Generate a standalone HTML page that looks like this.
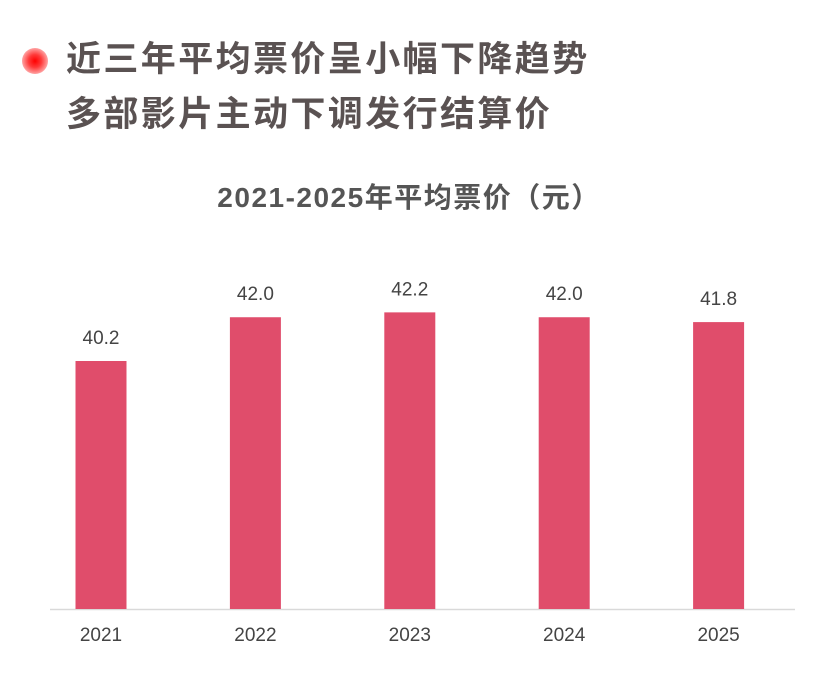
<!DOCTYPE html>
<html><head><meta charset="utf-8"><style>
body{margin:0;width:824px;height:675px;background:#fff;overflow:hidden;position:relative;font-family:"Liberation Sans","Noto Sans CJK SC",sans-serif}
.h{position:absolute;left:66px;font-size:35px;letter-spacing:2.4px;font-weight:bold;color:#5a5252;line-height:40px;white-space:nowrap}
.dot{position:absolute;left:22px;top:48px;width:26px;height:26px;border-radius:50%;background:radial-gradient(circle,#ff0000 0%,#ff3a3a 35%,#ffb0b0 75%,rgba(255,255,255,0) 100%)}
</style></head><body>
<div class="dot"></div>
<div class="h" style="top:40px">近三年平均票价呈小幅下降趋势</div>
<div class="h" style="top:95px">多部影片主动下调发行结算价</div>
<svg id="chart" width="824" height="675" style="position:absolute;left:0;top:0">
<text x="409" y="207" text-anchor="middle" font-size="28" letter-spacing="1.5" font-weight="bold" fill="#555">2021-2025年平均票价（元）</text>
<line x1="50" y1="609.5" x2="795" y2="609.5" stroke="#d9d9d9" stroke-width="1.5"/>
</svg>
<script>
const categories=["2021","2022","2023","2024","2025"];
const values=[40.2,42.0,42.2,42.0,41.8];
const labels=["40.2","42.0","42.2","42.0","41.8"];
const svg=document.getElementById('chart');
const NS='http://www.w3.org/2000/svg';
const vmin=30,vmax=40.2,y0=609,y1=361;
function y(v){return y0-(v-vmin)/(vmax-vmin)*(y0-y1);}
function xc(i){return 101+i*154.4;}
categories.forEach((c,i)=>{
 const r=document.createElementNS(NS,'rect');
 r.setAttribute('x',xc(i)-25.5);r.setAttribute('width',51);
 r.setAttribute('y',y(values[i]));r.setAttribute('height',y0-y(values[i]));
 r.setAttribute('fill','#e04d6b');
 
 
 svg.appendChild(r);
 const t=document.createElementNS(NS,'text');
 t.setAttribute('x',xc(i));t.setAttribute('y',y(values[i])-17);
 t.setAttribute('text-anchor','middle');t.setAttribute('font-size','19');t.setAttribute('fill','#444');
 t.textContent=labels[i];
 
 
 svg.appendChild(t);
 const x=document.createElementNS(NS,'text');
 x.setAttribute('x',xc(i));x.setAttribute('y',641);
 x.setAttribute('text-anchor','middle');x.setAttribute('font-size','19');x.setAttribute('fill','#444');
 x.textContent=c;
 
 
 svg.appendChild(x);
});
</script>
</body></html>
